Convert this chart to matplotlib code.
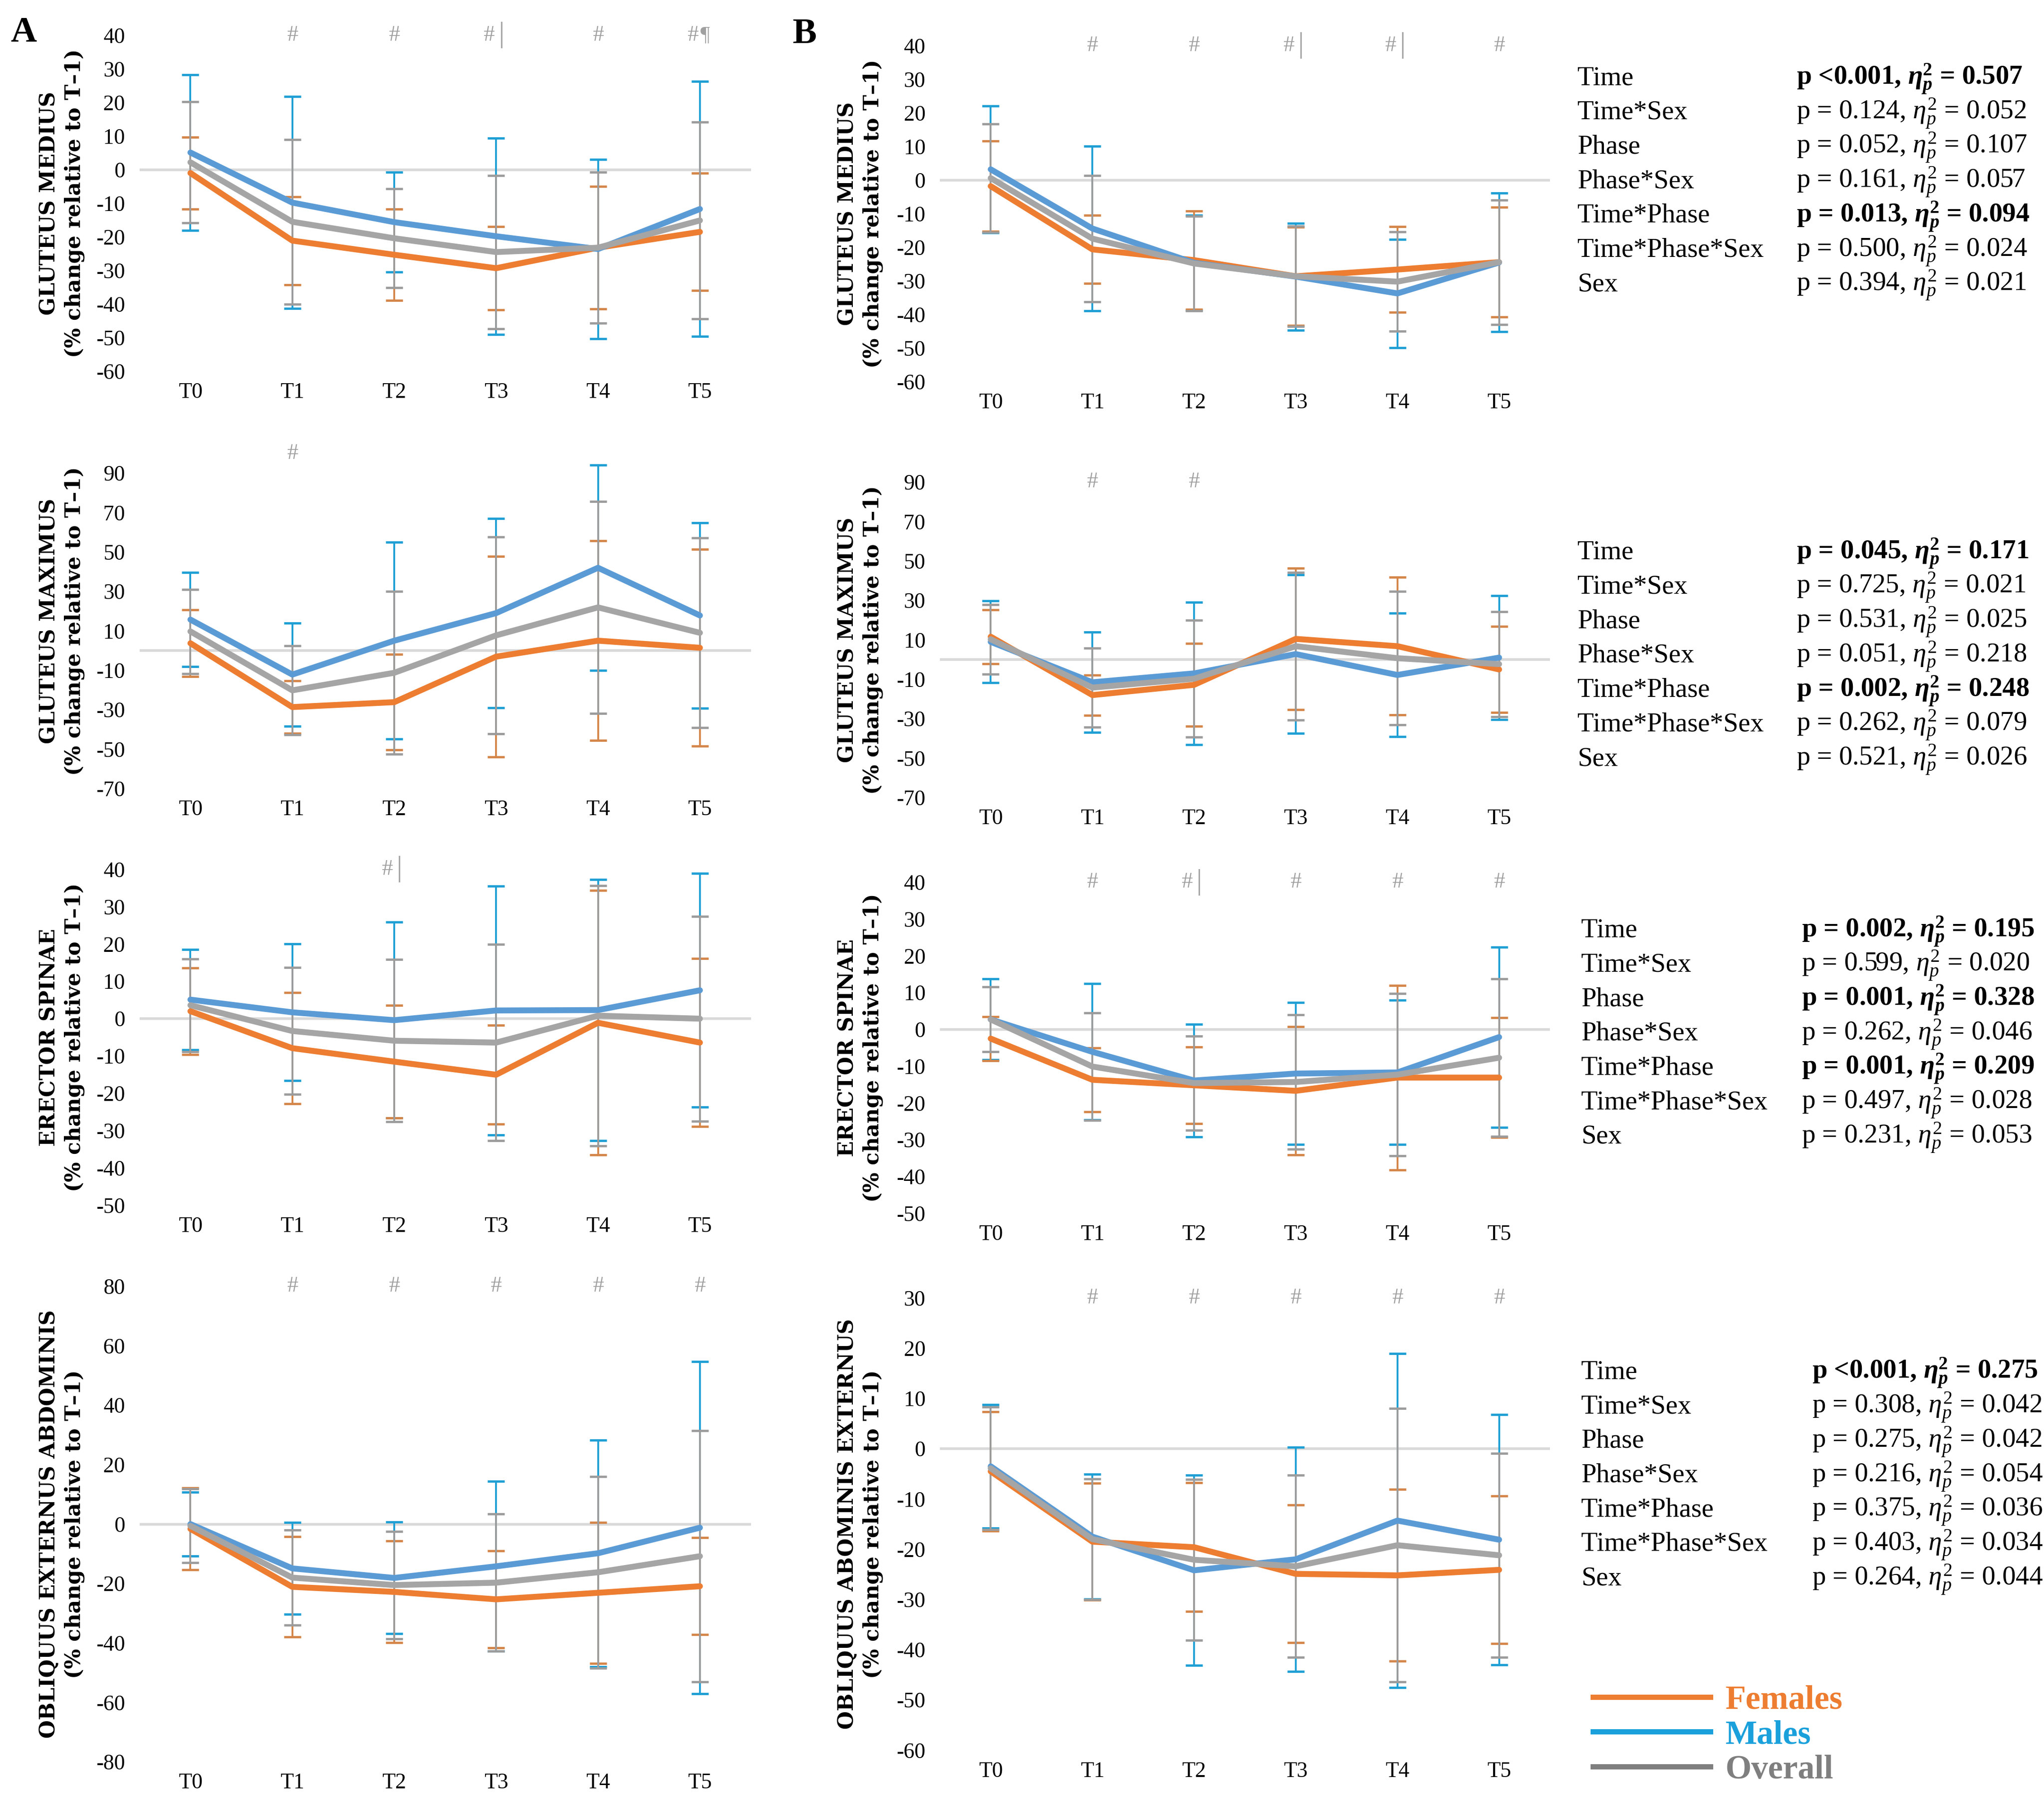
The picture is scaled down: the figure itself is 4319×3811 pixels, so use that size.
import matplotlib.pyplot as plt
from matplotlib.lines import Line2D

plt.rcParams['font.family'] = ['Liberation Serif', 'DejaVu Serif']
plt.rcParams['mathtext.fontset'] = 'custom'
plt.rcParams['mathtext.rm'] = 'Liberation Serif'
plt.rcParams['mathtext.it'] = 'Liberation Serif:italic'
plt.rcParams['mathtext.bf'] = 'Liberation Serif:bold'
plt.rcParams['mathtext.bfit'] = 'Liberation Serif:bold:italic'

times = ['T0', 'T1', 'T2', 'T3', 'T4', 'T5']

# ---- panel A (means / SD, % change relative to T-1)
a_gmed_fem = [-1.0, -21.1, -25.3, -29.3, -23.2, -18.5]
a_gmed_fem_sd = [10.7, 13.1, 13.6, 12.4, 18.2, 17.5]
a_gmed_male = [5.1, -9.8, -15.6, -19.8, -23.6, -11.7]
a_gmed_male_sd = [23.1, 31.5, 14.8, 29.2, 26.7, 37.9]
a_gmed_all = [2.2, -15.5, -20.4, -24.5, -23.2, -15.1]
a_gmed_all_sd = [18.0, 24.5, 14.7, 22.8, 22.5, 29.3]

a_gmax_fem = [3.7, -28.7, -26.2, -3.1, 5.0, 1.4]
a_gmax_fem_sd = [16.9, 13.4, 24.2, 50.9, 50.6, 50.0]
a_gmax_male = [15.7, -12.2, 5.0, 19.0, 42.0, 17.8]
a_gmax_male_sd = [23.9, 26.2, 49.9, 48.0, 52.1, 47.0]
a_gmax_all = [9.7, -20.2, -11.3, 7.7, 21.9, 9.0]
a_gmax_all_sd = [21.4, 22.5, 41.4, 49.9, 53.8, 48.2]

a_es_fem = [2.0, -7.9, -11.5, -15.0, -1.1, -6.4]
a_es_fem_sd = [11.6, 14.9, 15.1, 13.2, 35.4, 22.5]
a_es_male = [5.1, 1.7, -0.4, 2.2, 2.3, 7.6]
a_es_male_sd = [13.4, 18.3, 26.2, 33.3, 35.0, 31.3]
a_es_all = [3.6, -3.3, -5.9, -6.4, 0.8, 0.0]
a_es_all_sd = [12.4, 17.0, 21.7, 26.3, 34.8, 27.4]

a_oe_fem = [-1.6, -21.1, -22.8, -25.3, -23.1, -20.9]
a_oe_fem_sd = [13.8, 16.9, 17.1, 16.3, 23.7, 16.3]
a_oe_male = [0.0, -14.9, -18.1, -14.2, -9.8, -1.2]
a_oe_male_sd = [10.8, 15.4, 18.8, 28.6, 38.1, 55.9]
a_oe_all = [-0.6, -18.0, -20.5, -19.7, -16.2, -10.8]
a_oe_all_sd = [12.4, 16.0, 18.1, 23.1, 32.2, 42.3]

# ---- panel B
b_gmed_fem = [-1.8, -20.6, -23.8, -28.6, -26.6, -24.4]
b_gmed_fem_sd = [13.4, 10.1, 14.6, 14.6, 12.7, 16.3]
b_gmed_male = [3.2, -14.4, -24.6, -28.7, -33.7, -24.5]
b_gmed_male_sd = [18.9, 24.5, 14.1, 15.9, 16.1, 20.6]
b_gmed_all = [0.6, -17.4, -24.8, -28.6, -30.2, -24.4]
b_gmed_all_sd = [16.1, 18.8, 14.1, 14.9, 14.8, 18.5]

b_gmax_fem = [11.6, -18.0, -12.8, 10.5, 6.8, -5.0]
b_gmax_fem_sd = [13.7, 10.2, 21.0, 35.9, 34.9, 21.9]
b_gmax_male = [9.0, -11.5, -7.0, 2.8, -7.8, 1.0]
b_gmax_male_sd = [20.7, 25.4, 36.2, 40.1, 31.4, 31.4]
b_gmax_all = [10.3, -14.2, -9.7, 6.8, 0.7, -2.3]
b_gmax_all_sd = [17.6, 20.1, 29.7, 37.5, 33.8, 26.7]

b_es_fem = [-2.5, -13.7, -15.2, -16.7, -13.1, -13.1]
b_es_fem_sd = [6.0, 8.7, 10.4, 17.4, 25.1, 16.3]
b_es_male = [2.7, -6.1, -13.9, -12.0, -11.7, -2.1]
b_es_male_sd = [11.0, 18.5, 15.3, 19.3, 19.6, 24.5]
b_es_all = [2.7, -10.1, -14.6, -14.3, -12.3, -7.7]
b_es_all_sd = [8.8, 14.6, 12.8, 18.3, 22.1, 21.4]

b_oe_fem = [-4.5, -18.5, -19.6, -24.9, -25.2, -24.1]
b_oe_fem_sd = [11.9, 11.6, 12.8, 13.7, 17.1, 14.7]
b_oe_male = [-3.5, -17.5, -24.2, -22.0, -14.3, -18.1]
b_oe_male_sd = [12.3, 12.4, 18.9, 22.3, 33.2, 24.9]
b_oe_all = [-3.9, -18.0, -22.1, -23.4, -19.2, -21.2]
b_oe_all_sd = [12.2, 12.0, 16.0, 18.1, 27.2, 20.3]

# significance marks above each time point
a_gmed_marks = ['', '#', '#', '#|', '#', '#¶']
a_gmax_marks = ['', '#', '', '', '', '']
a_es_marks = ['', '', '#|', '', '', '']
a_oe_marks = ['', '#', '#', '#', '#', '#']
b_gmed_marks = ['', '#', '#', '#|', '#|', '#']
b_gmax_marks = ['', '#', '#', '', '', '']
b_es_marks = ['', '#', '#|', '#', '#', '#']
b_oe_marks = ['', '#', '#', '#', '#', '#']

# ANOVA results (panel B)
stat_names = ['Time', 'Time*Sex', 'Phase', 'Phase*Sex', 'Time*Phase', 'Time*Phase*Sex', 'Sex']
gmed_p = ['<0.001', '= 0.124', '= 0.052', '= 0.161', '= 0.013', '= 0.500', '= 0.394']
gmed_eta = ['0.507', '0.052', '0.107', '0.057', '0.094', '0.024', '0.021']
gmed_sig = [1, 0, 0, 0, 1, 0, 0]
gmax_p = ['= 0.045', '= 0.725', '= 0.531', '= 0.051', '= 0.002', '= 0.262', '= 0.521']
gmax_eta = ['0.171', '0.021', '0.025', '0.218', '0.248', '0.079', '0.026']
gmax_sig = [1, 0, 0, 0, 1, 0, 0]
es_p = ['= 0.002', '= 0.599', '= 0.001', '= 0.262', '= 0.001', '= 0.497', '= 0.231']
es_eta = ['0.195', '0.020', '0.328', '0.046', '0.209', '0.028', '0.053']
es_sig = [1, 0, 1, 0, 1, 0, 0]
oe_p = ['<0.001', '= 0.308', '= 0.275', '= 0.216', '= 0.375', '= 0.403', '= 0.264']
oe_eta = ['0.275', '0.042', '0.042', '0.054', '0.036', '0.034', '0.044']
oe_sig = [1, 0, 0, 0, 0, 0, 0]

fem_col, fem_err = '#ED7D31', '#D4864A'
male_col, male_err = '#5B9BD5', '#1F9FD4'
all_col, all_err = '#A5A5A5', '#9C9C9C'
mark_col = '#A0A0A0'

W, H = 1568.0, 1383.5


def box(l, r, t, b):
    return [l / W, 1 - b / H, (r - l) / W, (b - t) / H]


def draw(ax, fem, fem_sd, male, male_sd, allm, all_sd, ylim, yticks, marks):
    x = list(range(len(times)))
    ax.axhline(0, color='#D9D9D9', lw=4, zorder=1)
    eb = dict(fmt='none', elinewidth=2.8, capsize=13, capthick=3.5, zorder=2)
    ax.errorbar(x, male, yerr=male_sd, ecolor=male_err, **eb)
    ax.errorbar(x, fem, yerr=fem_sd, ecolor=fem_err, **eb)
    ax.errorbar(x, allm, yerr=all_sd, ecolor=all_err, **eb)
    ln = dict(lw=9, zorder=3, solid_joinstyle='round', solid_capstyle='round')
    ax.plot(x, fem, color=fem_col, **ln)
    ax.plot(x, male, color=male_col, **ln)
    ax.plot(x, allm, color=all_col, **ln)
    ax.set_xlim(-0.5, 5.5)
    ax.set_ylim(*ylim)
    ax.set_xticks(x, times)
    ax.set_yticks(yticks, [str(v) for v in yticks])
    ax.tick_params(axis='both', length=0, labelsize=33)
    ax.tick_params(axis='x', pad=17)
    ax.tick_params(axis='y', pad=22)
    for s in ax.spines.values():
        s.set_visible(False)
    tr = ax.get_xaxis_transform()
    for i, m in enumerate(marks):
        if not m:
            continue
        if len(m) == 1:
            ax.text(i, 1.0, '#', transform=tr, ha='center', va='center',
                    fontsize=34, color=mark_col, clip_on=False)
        else:
            ax.text(i - 0.07, 1.0, '#', transform=tr, ha='center', va='center',
                    fontsize=34, color=mark_col, clip_on=False)
            ax.text(i + 0.05, 1.0, m[1], transform=tr, ha='center', va='center',
                    fontsize=44 if m[1] == '|' else 32, color=mark_col, clip_on=False)


fig = plt.figure(figsize=(43.19, 38.11), dpi=100)

panels = [
    (box(107, 576, 27, 285), a_gmed_fem, a_gmed_fem_sd, a_gmed_male, a_gmed_male_sd, a_gmed_all, a_gmed_all_sd,
     (-60, 40), list(range(-60, 41, 10)), a_gmed_marks, 'GLUTEUS MEDIUS', 47.5),
    (box(107, 576, 348, 605), a_gmax_fem, a_gmax_fem_sd, a_gmax_male, a_gmax_male_sd, a_gmax_all, a_gmax_all_sd,
     (-70, 100), list(range(-70, 91, 20)), a_gmax_marks, 'GLUTEUS MAXIMUS', 47.5),
    (box(107, 576, 667, 925), a_es_fem, a_es_fem_sd, a_es_male, a_es_male_sd, a_es_all, a_es_all_sd,
     (-50, 40), list(range(-50, 41, 10)), a_es_marks, 'ERECTOR SPINAE', 47.5),
    (box(107, 576, 987, 1352), a_oe_fem, a_oe_fem_sd, a_oe_male, a_oe_male_sd, a_oe_all, a_oe_all_sd,
     (-80, 80), list(range(-80, 81, 20)), a_oe_marks, 'OBLIQUUS EXTERNUS ABDOMINIS', 47.5),
    (box(721, 1189, 35, 293), b_gmed_fem, b_gmed_fem_sd, b_gmed_male, b_gmed_male_sd, b_gmed_all, b_gmed_all_sd,
     (-60, 40), list(range(-60, 41, 10)), b_gmed_marks, 'GLUTEUS MEDIUS', 660),
    (box(721, 1189, 370, 612), b_gmax_fem, b_gmax_fem_sd, b_gmax_male, b_gmax_male_sd, b_gmax_all, b_gmax_all_sd,
     (-70, 90), list(range(-70, 91, 20)), b_gmax_marks, 'GLUTEUS MAXIMUS', 660),
    (box(721, 1189, 677, 931), b_es_fem, b_es_fem_sd, b_es_male, b_es_male_sd, b_es_all, b_es_all_sd,
     (-50, 40), list(range(-50, 41, 10)), b_es_marks, 'ERECTOR SPINAE', 660),
    (box(721, 1189, 996, 1343), b_oe_fem, b_oe_fem_sd, b_oe_male, b_oe_male_sd, b_oe_all, b_oe_all_sd,
     (-60, 30), list(range(-60, 31, 10)), b_oe_marks, 'OBLIQUUS ABOMINIS EXTERNUS', 660),
]

for p in panels:
    ax = fig.add_axes(p[0])
    draw(ax, *p[1:10])
    pos = p[0]
    fig.text(p[11] / W, pos[1] + pos[3] / 2, p[10] + '\n(% change relative to T\u20131)',
             rotation=90, ha='center', va='center', multialignment='center',
             fontsize=32, fontweight='bold', family='DejaVu Serif', linespacing=1.3)

fig.text(8 / W, 1 - 32 / H, 'A', fontsize=55, fontweight='bold', ha='left', va='baseline')
fig.text(608 / W, 1 - 33 / H, 'B', fontsize=55, fontweight='bold', ha='left', va='baseline')

# statistics blocks
blocks = [
    (58, 1210, 1378, gmed_p, gmed_eta, gmed_sig),
    (422, 1210, 1378, gmax_p, gmax_eta, gmax_sig),
    (712, 1213, 1382, es_p, es_eta, es_sig),
    (1051, 1213, 1390, oe_p, oe_eta, oe_sig),
]
for y0, xn, xv, pv, eta, sig in blocks:
    for k in range(len(stat_names)):
        yb = 1 - (y0 + 26.4 * k + 7) / H
        fig.text(xn / W, yb, stat_names[k], fontsize=41, ha='left', va='baseline')
        if sig[k]:
            s = 'p ' + pv[k] + r', $\mathbfit{\eta}_{\mathbfit{p}}^{\mathbf{2}}$ = ' + eta[k]
            fig.text(xv / W, yb, s, fontsize=41, fontweight='bold', ha='left', va='baseline')
        else:
            s = 'p ' + pv[k] + r', $\eta_p^2$ = ' + eta[k]
            fig.text(xv / W, yb, s, fontsize=41, ha='left', va='baseline')

# legend
leg_labels = ['Females', 'Males', 'Overall']
leg_line_cols = ['#ED7D31', '#1AA0DB', '#7F7F7F']
handles = [Line2D([], [], color=c, lw=8) for c in leg_line_cols]
leg = fig.legend(handles, leg_labels, loc='upper left', bbox_to_anchor=(1222 / W, 1 - 1293 / H),
                 frameon=False, handlelength=3.5, handletextpad=0.45, labelspacing=0.12,
                 borderpad=0, borderaxespad=0,
                 prop={'family': 'Liberation Serif', 'weight': 'bold', 'size': 51})
for t, c in zip(leg.get_texts(), leg_line_cols):
    t.set_color(c)

fig.savefig('out.png', dpi=100, facecolor='white')
